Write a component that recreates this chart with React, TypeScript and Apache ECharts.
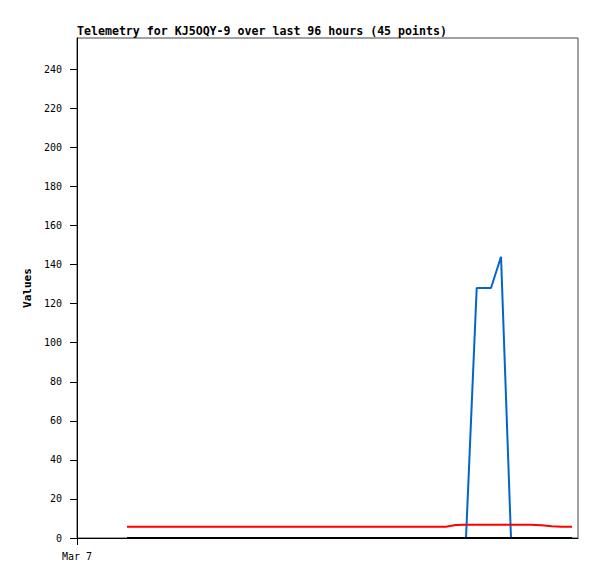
import React, { useEffect, useRef } from "react";
import * as echarts from "echarts";

// time of each sample, hours after Mar 7 00:00
const hours = [
  9.58, 11.49, 13.4, 15.31, 17.21, 19.12, 21.03, 22.94, 24.85, 26.76,
  28.67, 30.57, 32.48, 34.39, 36.3, 38.21, 40.12, 42.02, 43.93, 45.84,
  47.75, 49.66, 51.57, 53.48, 55.38, 57.29, 59.2, 61.11, 63.02, 64.93,
  66.84, 68.74, 70.65, 72.58, 74.54, 76.59, 79.33, 81.25, 83.16, 85.08,
  86.99, 89.01, 90.96, 92.9, 94.85,
];
const redValues = [
  5.8, 5.8, 5.8, 5.8, 5.8, 5.8, 5.8, 5.8, 5.8, 5.8,
  5.8, 5.8, 5.8, 5.8, 5.8, 5.8, 5.8, 5.8, 5.8, 5.8,
  5.8, 5.8, 5.8, 5.8, 5.8, 5.8, 5.8, 5.8, 5.8, 5.8,
  5.8, 5.8, 5.8, 6.6, 6.8, 6.8, 6.8, 6.8, 6.8, 6.8,
  6.8, 6.5, 6.0, 5.8, 5.8,
];
const blueValues = [
  0, 0, 0, 0, 0, 0, 0, 0, 0, 0,
  0, 0, 0, 0, 0, 0, 0, 0, 0, 0,
  0, 0, 0, 0, 0, 0, 0, 0, 0, 0,
  0, 0, 0, 0, 0, 128, 128, 144, 0, 0,
  0, 0, 0, 0, 0,
];
const blackValues = [
  0, 0, 0, 0, 0, 0, 0, 0, 0, 0,
  0, 0, 0, 0, 0, 0, 0, 0, 0, 0,
  0, 0, 0, 0, 0, 0, 0, 0, 0, 0,
  0, 0, 0, 0, 0, 0, 0, 0, 0, 0,
  0, 0, 0, 0, 0,
];
const yTicks = [0, 20, 40, 60, 80, 100, 120, 140, 160, 180, 200, 220, 240];
const xTicks = [0];
const xTickLabels = ["Mar 7"];
const title = "Telemetry for KJ5OQY-9 over last 96 hours (45 points)";

const MONO = "'DejaVu Sans Mono', 'Liberation Mono', monospace";

export default function App() {
  const ref = useRef<HTMLDivElement>(null);
  useEffect(() => {
    if (!ref.current) return;
    const chart = echarts.init(ref.current, null, { renderer: "svg" });
    const mk = (vals: number[]) => hours.map((h, i) => [h, vals[i]]);
    chart.setOption({
      animation: false,
      backgroundColor: "#fff",
      title: {
        text: title,
        left: 77,
        top: 25,
        padding: 0,
        textStyle: { fontFamily: MONO, fontSize: 11.6, fontWeight: "bold", color: "#000" },
      },
      grid: {
        left: 77,
        right: 19,
        top: 38,
        bottom: 41,
        show: true,
        borderColor: "#444",
        borderWidth: 1,
        backgroundColor: "transparent",
      },
      xAxis: {
        type: "value",
        min: 0,
        max: 96,
        splitLine: { show: false },
        axisLine: { show: true, onZero: false, lineStyle: { color: "#000", width: 1 } },
        axisTick: { show: true, length: 7, customValues: xTicks, lineStyle: { color: "#000" } },
        axisLabel: {
          customValues: xTicks,
          formatter: (v: number) => xTickLabels[xTicks.indexOf(v)] ?? "",
          fontFamily: MONO,
          fontSize: 10,
          color: "#000",
          margin: 13,
        },
      },
      yAxis: {
        type: "value",
        min: 0,
        max: 256,
        name: "Values",
        nameLocation: "middle",
        nameGap: 44,
        nameMoveOverlap: false,
        nameTextStyle: { fontFamily: MONO, fontSize: 11, fontWeight: "bold", color: "#000" },
        splitLine: { show: false },
        axisLine: { show: true, lineStyle: { color: "#000", width: 1 } },
        axisTick: { show: true, length: 7, customValues: yTicks, lineStyle: { color: "#000" } },
        axisLabel: {
          customValues: yTicks,
          fontFamily: MONO,
          fontSize: 10,
          color: "#000",
          margin: 15,
        },
      },
      series: [
        {
          type: "line",
          data: mk(blueValues),
          showSymbol: false,
          lineStyle: { color: "#0066cc", width: 2 },
          itemStyle: { color: "#0066cc" },
          z: 2,
        },
        {
          type: "line",
          data: mk(redValues),
          showSymbol: false,
          lineStyle: { color: "#ff0000", width: 2 },
          itemStyle: { color: "#ff0000" },
          z: 3,
        },
        {
          type: "line",
          data: mk(blackValues),
          showSymbol: false,
          lineStyle: { color: "#000000", width: 2 },
          itemStyle: { color: "#000000" },
          z: 4,
        },
      ],
    });
    return () => chart.dispose();
  }, []);
  return (
    <div
      ref={ref}
      style={{ position: "fixed", left: 0, top: 0, width: 597, height: 579, background: "#fff" }}
    />
  );
}
